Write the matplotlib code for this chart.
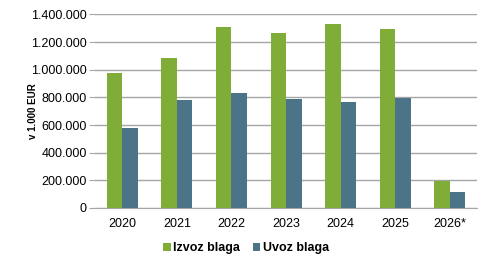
import matplotlib.pyplot as plt
import numpy as np

years = ["2020", "2021", "2022", "2023", "2024", "2025", "2026*"]
izvoz = [978000, 1087000, 1308000, 1265000, 1330000, 1292000, 195000]
uvoz = [575000, 784000, 832000, 788000, 763000, 796000, 115000]

green = "#80ad37"
blue = "#4b7489"

plt.rcParams["font.family"] = ["Liberation Sans", "DejaVu Sans"]

fig = plt.figure(figsize=(4.92, 2.67), dpi=100)
ax = fig.add_axes([0.193, 0.221, 0.777, 0.725])

x = np.arange(len(years))
w = 0.285
ax.bar(x - w / 2, izvoz, w, color=green, label="Izvoz blaga", zorder=3)
ax.bar(x + w / 2, uvoz, w, color=blue, label="Uvoz blaga", zorder=3)

ax.set_xlim(-0.5, len(years) - 0.5)
ax.set_ylim(0, 1400000)
ax.set_yticks(np.arange(0, 1400001, 200000))
ax.set_yticklabels([f"{int(v):,}".replace(",", ".") for v in ax.get_yticks()], fontsize=9)
ax.set_xticks(x)
ax.set_xticklabels(years, fontsize=9)
ax.yaxis.grid(True, color="#a6a6a6", linewidth=1.0, zorder=0)
for s in ["top", "right", "left"]:
    ax.spines[s].set_visible(False)
ax.spines["bottom"].set_color("#a6a6a6")
ax.tick_params(axis="y", length=4, color="#a6a6a6", pad=2)
ax.tick_params(axis="x", length=0, pad=7)
ax.set_ylabel("v 1.000 EUR", fontsize=7, fontweight="bold")
ax.yaxis.set_label_coords(-0.148, 0.5)

leg = fig.legend(loc="center", bbox_to_anchor=(0.5, 1 - 248 / 267), ncol=2, frameon=False,
                 prop={"size": 9, "weight": "bold"}, handlelength=0.6, handleheight=0.6,
                 handletextpad=0.2, columnspacing=1.0)

fig.savefig("out.png", dpi=100)
